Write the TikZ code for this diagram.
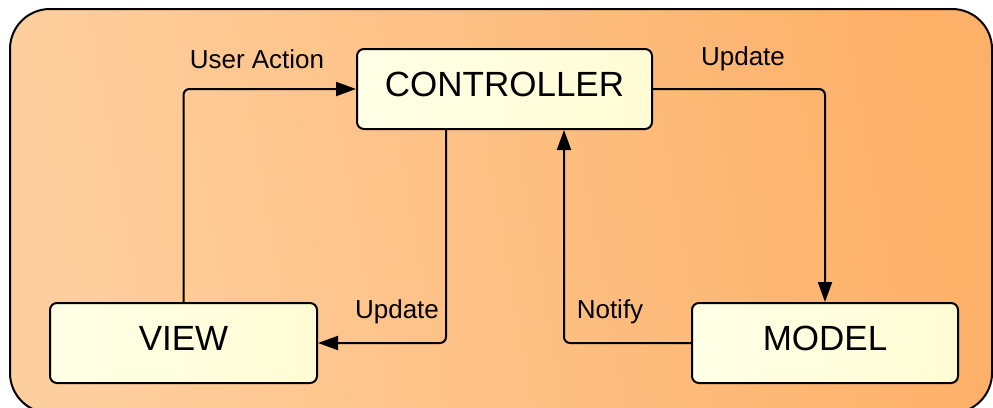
\documentclass[tikz,border=0pt]{standalone}
\usepackage{fontspec}
\setmainfont{Liberation Sans}
\usetikzlibrary{arrows.meta}
\definecolor{frameL}{RGB}{254,207,158}
\definecolor{frameR}{RGB}{253,176,104}
\definecolor{boxL}{RGB}{255,255,230}
\definecolor{boxR}{RGB}{255,252,212}
\tikzset{
  mvcbox/.style={draw=black, line width=2pt, rounded corners=7pt,
    left color=boxL, right color=boxR,
    minimum height=80pt, inner sep=0pt, text depth=10pt,
    font=\fontsize{35}{38}\selectfont},
  conn/.style={draw=black, line width=2pt, rounded corners=6pt,
    -{Triangle[length=20pt,width=14pt]}},
  lbl/.style={inner sep=0pt, font=\fontsize{26}{30}\selectfont}
}
\begin{document}
\begin{tikzpicture}[x=1pt, y=-1pt]
  \useasboundingbox (0,0) rectangle (993,407);
  \clip (0,0) rectangle (993,407);
  % outer panel
  \draw[line width=2pt, rounded corners=40pt, left color=frameL, right color=frameR, shading angle=100]
    (10,9) rectangle (992,413);

  % components
  \node[mvcbox, minimum width=295pt] (ctrl)  at (504.5,89) {CONTROLLER};
  \node[mvcbox, minimum width=267pt] (view)  at (183.5,343) {VIEW};
  \node[mvcbox, minimum width=266pt] (model) at (825,343) {MODEL};

  % connectors
  \draw[conn] (view.north) |- (ctrl.west);
  \draw[conn] (ctrl.east) -| (model.north);
  \draw[conn] ([xshift=-58.5pt]ctrl.south) |- (view.east);
  \draw[conn] (model.west) -| ([xshift=59.5pt]ctrl.south);

  % labels
  \node[lbl] (lUser)   at (257,59) {User Action};
  \node[lbl] (lUpd1)   at (743,59) {Update};
  \node[lbl] (lUpd2)   at (397,312) {Update};
  \node[lbl] (lNotify) at (610,312) {Notify};
\end{tikzpicture}
\end{document}
